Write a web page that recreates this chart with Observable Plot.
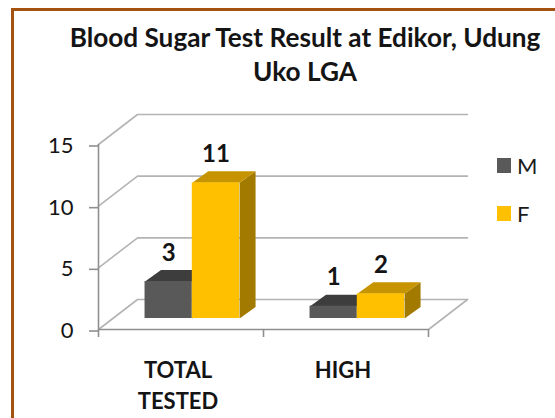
<!DOCTYPE html>
<html><head><meta charset="utf-8">
<script src="https://cdn.jsdelivr.net/npm/d3@7"></script>
<script src="https://cdn.jsdelivr.net/npm/@observablehq/plot@0.6"></script>
<style>
html,body{margin:0;padding:0;background:#fff;}
#wrap{position:relative;width:555px;height:418px;overflow:hidden;font-family:Lato,"Open Sans",sans-serif;background:#fff;}
#border{position:absolute;left:11px;top:8px;width:700px;height:600px;border:3px solid #a3520f;box-sizing:border-box;}
#title{position:absolute;left:0;width:610px;top:20px;text-align:center;font-weight:bold;font-size:26.2px;line-height:34px;color:#141414;white-space:nowrap;}
#chart{position:absolute;left:0;top:0;}
.lg{position:absolute;left:497px;width:14px;height:15px;}
.lt{position:absolute;left:517px;font-size:22px;line-height:22px;color:#1a1a1a;}
</style></head>
<body>
<div id="wrap">
  <div id="border"></div>
  <div id="title">Blood Sugar Test Result at Edikor, Udung<br>Uko LGA</div>
  <div id="chart"></div>
  <div id="legend"></div>
</div>
<script>
// ---- data ----
const categories = ["TOTAL TESTED", "HIGH"];
const series = ["M", "F"];
const valuesM = [3, 1];
const valuesF = [11, 2];
const yTicks = [0, 5, 10, 15];

// ---- styles ----
const frontColor = {M: "#595959", F: "#FFC000"};
const topColor = {M: "#3d3d3d", F: "#C69400"};
const sideColor = {M: "#333333", F: "#A37A00"};
const gridColor = "#b4b4b4";
const axisColor = "#8f8f8f";
const textColor = "#141414";
const FONT = "Lato, 'Open Sans', sans-serif";

// ---- geometry (pixels) ----
const W = 555, H = 418;
const mL = 98, mR = 555 - 428, mT = 144, mB = 418 - 329;
const pxX = (W - mL - mR) / categories.length;   // px per category
const pxY = (H - mT - mB) / 15;                 // px per unit
const wallDX = 39 / pxX, wallDY = 30 / pxY;     // wall depth in data units
const depDX = 16 / pxX, depDY = 11.5 / pxY;     // bar depth in data units
const frontShift = -11;                          // bars sit inside the floor
const barStart = 0.282, barW = 0.2865;

const valuesBy = {M: valuesM, F: valuesF};
const rows = categories.flatMap((c, i) => series.map((s, j) => {
  const x1 = i + barStart + j * barW;
  return {category: c, series: s, value: valuesBy[s][i], x1, x2: x1 + barW, key: c + s};
}));

const gridPts = yTicks.flatMap(t => [
  {t, x: 0, y: t},
  {t, x: wallDX, y: t + wallDY},
  {t, x: categories.length + wallDX, y: t + wallDY}
]);
const floorRight = [
  {x: categories.length, y: 0},
  {x: categories.length + wallDX, y: wallDY}
];

function topPts(d) {
  return [
    {key: d.key, x: d.x1, y: d.value},
    {key: d.key, x: d.x2, y: d.value},
    {key: d.key, x: d.x2 + depDX, y: d.value + depDY},
    {key: d.key, x: d.x1 + depDX, y: d.value + depDY}
  ];
}
function sidePts(d) {
  return [
    {key: d.key, x: d.x2, y: 0},
    {key: d.key, x: d.x2 + depDX, y: depDY},
    {key: d.key, x: d.x2 + depDX, y: d.value + depDY},
    {key: d.key, x: d.x2, y: d.value}
  ];
}

const barMarks = series.flatMap(s => {
  const r = rows.filter(d => d.series === s);
  return [
    Plot.line(r.flatMap(sidePts), {x: "x", y: "y", z: "key", fill: sideColor[s], stroke: null, dy: frontShift, curve: "linear-closed"}),
    Plot.line(r.flatMap(topPts), {x: "x", y: "y", z: "key", fill: topColor[s], stroke: null, dy: frontShift, curve: "linear-closed"}),
    Plot.rect(r, {x1: "x1", x2: "x2", y1: 0, y2: "value", fill: frontColor[s], dy: frontShift})
  ];
});

const chart = Plot.plot({
  width: W, height: H,
  marginLeft: mL, marginRight: mR, marginTop: mT, marginBottom: mB,
  x: {type: "linear", domain: [0, categories.length]},
  y: {type: "linear", domain: [0, 15]},
  style: {background: "transparent", fontFamily: FONT, overflow: "visible"},
  marks: [
    Plot.line(gridPts, {x: "x", y: "y", z: "t", stroke: gridColor, strokeWidth: 1.6}),
    Plot.line(floorRight, {x: "x", y: "y", stroke: gridColor, strokeWidth: 1.6}),
    Plot.ruleX([0], {y1: 0, y2: 15, stroke: axisColor, strokeWidth: 1.6}),
    Plot.ruleY([0], {x1: 0, x2: categories.length, stroke: axisColor, strokeWidth: 1.6}),
    Plot.axisY({ticks: yTicks, tickSize: 9, tickPadding: 16, stroke: axisColor, strokeWidth: 1.6, fill: textColor, fontSize: 22, label: null, tickFormat: d3.format("d"), dy: 1.5}),
    Plot.axisX({ticks: d3.range(categories.length + 1), tickSize: 8, stroke: axisColor, strokeWidth: 1.6, tickFormat: () => "", label: null}),
    ...barMarks,
    Plot.text(rows, {x: d => (d.x1 + d.x2) / 2, y: "value", text: d => String(d.value), dy: frontShift - 11.5 - 17, fontSize: 24, fontWeight: "bold", fill: textColor}),
    Plot.text(categories, {x: (d, i) => i + 0.5, y: 0, text: d => d.replace(" ", "\n"), dx: -3, dy: 26, lineAnchor: "top", lineHeight: 1.41, fontSize: 22, fontWeight: "bold", fill: textColor})
  ]
});
document.getElementById("chart").appendChild(chart);

// legend
const legend = document.getElementById("legend");
series.forEach((s, j) => {
  const top = 158 + j * 48;
  const sw = document.createElement("div");
  sw.className = "lg"; sw.style.top = top + "px"; sw.style.background = frontColor[s];
  const t = document.createElement("div");
  t.className = "lt"; t.style.top = (top - 3) + "px"; t.textContent = s;
  legend.appendChild(sw); legend.appendChild(t);
});
</script>
</body></html>
